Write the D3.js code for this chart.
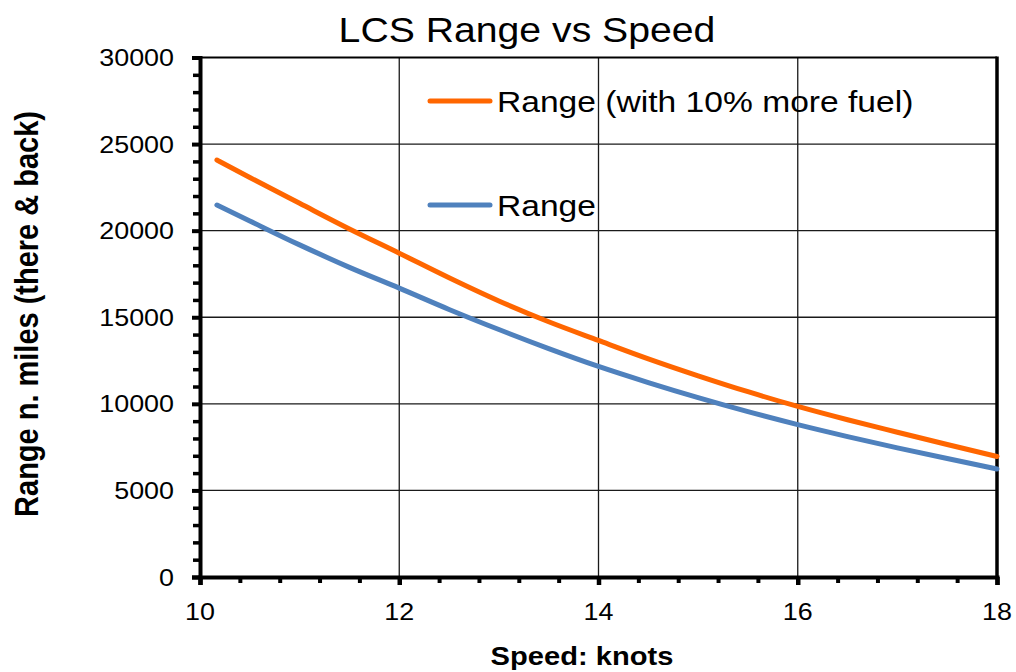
<!DOCTYPE html>
<html>
<head>
<meta charset="utf-8">
<script src="https://cdn.jsdelivr.net/npm/d3@7"></script>
<style>
  html, body { margin: 0; padding: 0; background: #ffffff; }
  svg { display: block; font-family: "Liberation Sans", Arial, sans-serif; }
</style>
</head>
<body>
<svg id="chart" width="1016" height="672"></svg>
<script>
// ---- data ----
const speeds = [10.17, 10.5, 11, 11.5, 12, 12.5, 13, 13.5, 14, 14.5, 15, 15.5, 16, 16.5, 17, 17.5, 18];
const rangeMoreFuel = [24080, 23070, 21580, 20100, 18700, 17280, 15940, 14740, 13660, 12600, 11620, 10700, 9850, 9080, 8360, 7650, 6960];
const rangeBase = [21480, 20560, 19180, 17880, 16680, 15450, 14290, 13190, 12160, 11230, 10360, 9550, 8800, 8110, 7460, 6840, 6240];
const xTicks = [10, 12, 14, 16, 18];
const xMinorTicks = [10.4, 10.8, 11.2, 11.6, 12.4, 12.8, 13.2, 13.6, 14.4, 14.8, 15.2, 15.6, 16.4, 16.8, 17.2, 17.6];
const yTicks = [0, 5000, 10000, 15000, 20000, 25000, 30000];
const yMinorTicks = [1000, 2000, 3000, 4000, 6000, 7000, 8000, 9000, 11000, 12000, 13000, 14000, 16000, 17000, 18000, 19000, 21000, 22000, 23000, 24000, 26000, 27000, 28000, 29000];
const seriesNames = ["Range (with 10% more fuel)", "Range"];
const seriesColors = ["#FF6600", "#4F81BD"];
const titleText = "LCS Range vs Speed";
const xTitle = "Speed: knots";
const yTitle = "Range n. miles (there & back)";

// ---- layout ----
const SX = 1.12; // horizontal stretch of the original rendering
const svg = d3.select("#chart");
const pLeft = 200, pRight = 997, pTop = 57.5, pBottom = 577;
const x = d3.scaleLinear().domain([10, 18]).range([pLeft, pRight]);
const y = d3.scaleLinear().domain([0, 30000]).range([pBottom, pTop]);

function stext(g, tx, ty, str, size, anchor, weight) {
  return g.append("text")
    .attr("transform", `translate(${tx},${ty}) scale(${SX},1)`)
    .attr("text-anchor", anchor)
    .attr("font-size", size)
    .attr("font-weight", weight || "normal")
    .attr("fill", "#000")
    .text(str);
}

// grid
const grid = svg.append("g");
grid.selectAll("line.h").data(yTicks.filter(d => d > 0 && d < 30000)).join("line")
  .attr("x1", pLeft).attr("x2", pRight).attr("y1", d => y(d)).attr("y2", d => y(d))
  .attr("stroke", "#1a1a1a").attr("stroke-width", 1.3);
grid.selectAll("line.v").data(xTicks.filter(d => d > 10 && d < 18)).join("line")
  .attr("y1", pTop).attr("y2", pBottom).attr("x1", d => x(d)).attr("x2", d => x(d))
  .attr("stroke", "#1a1a1a").attr("stroke-width", 1.3);
// top border
svg.append("line").attr("x1", pLeft).attr("x2", pRight).attr("y1", pTop).attr("y2", pTop)
  .attr("stroke", "#000").attr("stroke-width", 2);
// right border
svg.append("line").attr("x1", pRight).attr("x2", pRight).attr("y1", pTop - 1).attr("y2", pBottom + 2)
  .attr("stroke", "#000").attr("stroke-width", 3.5);

// axes using d3 axes
const xAxis = svg.append("g").attr("transform", `translate(0,${pBottom})`)
  .call(d3.axisBottom(x).tickValues(xTicks).tickSize(8).tickFormat(""));
xAxis.select(".domain").attr("stroke-width", 4).attr("stroke", "#000");
xAxis.selectAll(".tick line").attr("stroke-width", 4.5).attr("stroke", "#000");
const xAxisMinor = svg.append("g").attr("transform", `translate(0,${pBottom})`)
  .call(d3.axisBottom(x).tickValues(xMinorTicks).tickSize(6).tickFormat(""));
xAxisMinor.select(".domain").remove();
xAxisMinor.selectAll(".tick line").attr("stroke-width", 4).attr("stroke", "#000");

const yAxis = svg.append("g").attr("transform", `translate(${pLeft},0)`)
  .call(d3.axisLeft(y).tickValues(yTicks).tickSize(8).tickFormat(""));
yAxis.select(".domain").attr("stroke-width", 4).attr("stroke", "#000");
yAxis.selectAll(".tick line").attr("stroke-width", 4).attr("stroke", "#000");
const yAxisMinor = svg.append("g").attr("transform", `translate(${pLeft},0)`)
  .call(d3.axisLeft(y).tickValues(yMinorTicks).tickSize(7).tickFormat(""));
yAxisMinor.select(".domain").remove();
yAxisMinor.selectAll(".tick line").attr("stroke-width", 3.5).attr("stroke", "#000");

// tick labels
const labels = svg.append("g");
yTicks.forEach(v => stext(labels, 174, y(v) + 8.5, String(v), 24, "end"));
xTicks.forEach(v => stext(labels, x(v), 620, String(v), 24, "middle"));

// lines
const line = d3.line().x(d => x(d[0])).y(d => y(d[1])).curve(d3.curveMonotoneX);
const series = [rangeMoreFuel, rangeBase];
series.forEach((vals, i) => {
  svg.append("path")
    .datum(speeds.map((s, j) => [s, vals[j]]))
    .attr("d", line)
    .attr("fill", "none")
    .attr("stroke", seriesColors[i])
    .attr("stroke-width", 5)
    .attr("stroke-linecap", "round")
    .attr("stroke-linejoin", "round");
});

// legend
const legendY = [101, 205];
const lg = svg.append("g");
seriesNames.forEach((name, i) => {
  lg.append("line").attr("x1", 430).attr("x2", 490).attr("y1", legendY[i]).attr("y2", legendY[i])
    .attr("stroke", seriesColors[i]).attr("stroke-width", 5).attr("stroke-linecap", "round");
  stext(lg, 497, legendY[i] + 10.5, name, 30, "start");
});

// titles
stext(svg, 527, 42, titleText, 35, "middle");
stext(svg, 582, 665, xTitle, 26, "middle", "bold");
svg.append("text")
  .attr("transform", `translate(38,314) scale(${SX},1) rotate(-90)`)
  .attr("text-anchor", "middle")
  .attr("font-size", 29)
  .attr("font-weight", "bold")
  .attr("fill", "#000")
  .text(yTitle);
</script>
</body>
</html>
